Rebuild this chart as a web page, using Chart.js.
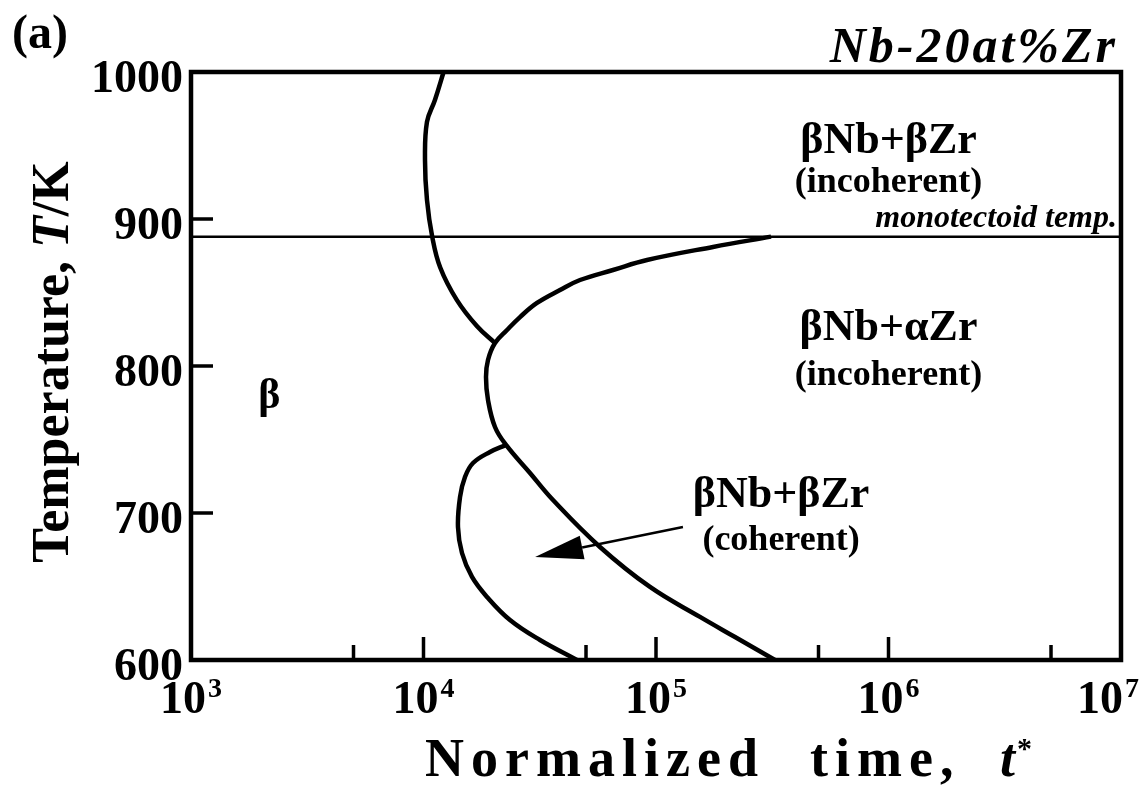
<!DOCTYPE html>
<html>
<head>
<meta charset="utf-8">
<title>Nb-20at%Zr TTT diagram</title>
<script src="https://cdn.jsdelivr.net/npm/chart.js@4.4.0/dist/chart.umd.min.js"></script>
<style>
  body { margin: 0; background: #fff; }
  #wrap { width: 1143px; height: 789px; }
</style>
</head>
<body>
<div id="wrap"><canvas id="ttt" width="1143" height="789"></canvas></div>
<script>
// Boundary between beta and incoherent betaNb+betaZr (above the nose)
const upperTime = [12200, 11200, 10350, 10150, 10350, 10900, 11800, 13900, 17000, 20300];
const upperTemp = [1000, 981, 966, 940, 913, 888, 867, 845, 827, 815.6];

// C-curve for betaNb+alphaZr (incoherent), from the monotectoid line down to 600 K
const alphaTime = [312400, 175900, 91500, 65340, 47120, 38650, 30770, 26010, 22870, 20300, 18940, 18570,
                   18940, 20300, 22650, 28710, 36060, 57420, 94230, 154600, 218700, 324900];
const alphaTemp = [888, 881, 872.1, 865.3, 858.5, 851.7, 842.9, 833.3, 824.5, 815.6, 804.1, 792.5,
                   776.9, 758.5, 746.3, 727.2, 708.8, 676.9, 649.7, 629.3, 615.6, 600];

// Coherent betaNb+betaZr nose, branching off the C-curve
const coherentTime = [22650, 19320, 16330, 15080, 14360, 14070, 14640, 16170, 18760, 23550, 31700, 45720];
const coherentTemp = [746.3, 741.5, 734, 724.5, 710.9, 690.5, 672.8, 656.5, 642.9, 627.2, 613.6, 600];

// Monotectoid temperature
const monotectoidTemp = 888;

// Axis ticks
const xMajorTicks = [1e3, 1e4, 1e5, 1e6, 1e7];
const xExponents = ['3', '4', '5', '6', '7'];
const xMinorTicks = [5e3, 5e4, 5e5, 5e6];
const yTicks = [600, 700, 800, 900, 1000];

const SERIF = '"Liberation Serif", "Times New Roman", Times, serif';

function toPoints(xs, ys) {
    return xs.map((x, i) => ({ x: x, y: ys[i] }));
}

function curve(xs, ys, width) {
    return {
        data: toPoints(xs, ys),
        showLine: true,
        borderColor: '#000',
        borderWidth: width,
        pointRadius: 0,
        tension: 0.4,
        fill: false
    };
}

// Region labels, placed in data coordinates
const regionLabels = [
    { text: 'βNb+βZr', t: 1.0e6, T: 944.9, size: 44 },
    { text: '(incoherent)', t: 1.0e6, T: 918.4, size: 36 },
    { text: 'βNb+αZr', t: 1.0e6, T: 817.7, size: 44 },
    { text: '(incoherent)', t: 1.0e6, T: 787, size: 36 },
    { text: 'β', t: 2170, T: 771.4, size: 42 },
    { text: 'βNb+βZr', t: 3.45e5, T: 704, size: 44 },
    { text: '(coherent)', t: 3.45e5, T: 674.8, size: 36 }
];

const arrowFrom = { t: 130600, T: 690.5 };
const arrowTo = { t: 30200, T: 670.1 };

const decorations = {
    id: 'decorations',
    afterDatasetsDraw(chart) {
        const ctx = chart.ctx;
        const area = chart.chartArea;
        const xs = chart.scales.x;
        const ys = chart.scales.y;
        ctx.save();
        ctx.fillStyle = '#000';
        ctx.strokeStyle = '#000';

        // frame
        ctx.lineWidth = 4.5;
        ctx.strokeRect(area.left, area.top, area.right - area.left, area.bottom - area.top);

        // inward ticks
        ctx.lineWidth = 3.5;
        ctx.beginPath();
        xMajorTicks.slice(1, -1).forEach(v => {
            const px = xs.getPixelForValue(v);
            ctx.moveTo(px, area.bottom);
            ctx.lineTo(px, area.bottom - 23);
        });
        xMinorTicks.forEach(v => {
            const px = xs.getPixelForValue(v);
            ctx.moveTo(px, area.bottom);
            ctx.lineTo(px, area.bottom - 15);
        });
        yTicks.slice(1, -1).forEach(v => {
            const py = ys.getPixelForValue(v);
            ctx.moveTo(area.left, py);
            ctx.lineTo(area.left + 22, py);
        });
        ctx.stroke();

        // y tick labels
        ctx.font = 'bold 46px ' + SERIF;
        ctx.textAlign = 'right';
        ctx.textBaseline = 'alphabetic';
        yTicks.forEach(v => {
            ctx.fillText(String(v), area.left - 8, ys.getPixelForValue(v) + 20);
        });

        // x tick labels as powers of ten, kept inside the canvas
        ctx.textAlign = 'left';
        xMajorTicks.forEach((v, i) => {
            const px = xs.getPixelForValue(v);
            ctx.font = 'bold 46px ' + SERIF;
            const wBase = ctx.measureText('10').width;
            ctx.font = 'bold 28px ' + SERIF;
            const wExp = ctx.measureText(xExponents[i]).width;
            const w = wBase + wExp + 2;
            const x0 = Math.min(px - w / 2, chart.width - 4 - w);
            ctx.font = 'bold 46px ' + SERIF;
            ctx.fillText('10', x0, 713);
            ctx.font = 'bold 28px ' + SERIF;
            ctx.fillText(xExponents[i], x0 + wBase + 2, 697);
        });

        // x axis title, spaced letters
        ctx.font = 'bold 54px ' + SERIF;
        ctx.letterSpacing = '7px';
        ctx.fillText('Normalized', 425, 776);
        ctx.fillText('time,', 810, 776);
        ctx.font = 'bold italic 54px ' + SERIF;
        ctx.letterSpacing = '0px';
        ctx.fillText('t', 1000, 776);
        const wt = ctx.measureText('t').width;
        ctx.font = 'bold 30px ' + SERIF;
        ctx.fillText('*', 1000 + wt + 2, 758);

        // y axis title, rotated
        ctx.save();
        ctx.translate(68, 362);
        ctx.rotate(-Math.PI / 2);
        const parts = [
            ['Temperature, ', 'bold 52px '],
            ['T', 'bold italic 52px '],
            ['/K', 'bold 52px ']
        ];
        let total = 0;
        parts.forEach(p => { ctx.font = p[1] + SERIF; total += ctx.measureText(p[0]).width; });
        let cx = -total / 2;
        parts.forEach(p => {
            ctx.font = p[1] + SERIF;
            ctx.fillText(p[0], cx, 0);
            cx += ctx.measureText(p[0]).width;
        });
        ctx.restore();

        // panel label and alloy name
        ctx.font = 'bold 48px ' + SERIF;
        ctx.textAlign = 'left';
        ctx.fillText('(a)', 12, 48);
        ctx.font = 'bold italic 50px ' + SERIF;
        ctx.letterSpacing = '3px';
        ctx.textAlign = 'right';
        ctx.fillText('Nb-20at%Zr', 1118, 62);
        ctx.letterSpacing = '0px';

        // monotectoid label
        ctx.font = 'bold italic 32px ' + SERIF;
        ctx.fillText('monotectoid temp.', area.right - 4, ys.getPixelForValue(monotectoidTemp) - 10);

        // region labels
        ctx.textAlign = 'center';
        regionLabels.forEach(l => {
            ctx.font = 'bold ' + l.size + 'px ' + SERIF;
            ctx.fillText(l.text, xs.getPixelForValue(l.t), ys.getPixelForValue(l.T));
        });

        // arrow pointing into the coherent region
        const ax = xs.getPixelForValue(arrowFrom.t), ay = ys.getPixelForValue(arrowFrom.T);
        const bx = xs.getPixelForValue(arrowTo.t), by = ys.getPixelForValue(arrowTo.T);
        const ang = Math.atan2(by - ay, bx - ax);
        const headLen = 48, headHalf = 12;
        const hx = bx - headLen * Math.cos(ang), hy = by - headLen * Math.sin(ang);
        ctx.lineWidth = 2.5;
        ctx.beginPath();
        ctx.moveTo(ax, ay);
        ctx.lineTo(hx, hy);
        ctx.stroke();
        ctx.beginPath();
        ctx.moveTo(bx, by);
        ctx.lineTo(hx + headHalf * Math.sin(ang), hy - headHalf * Math.cos(ang));
        ctx.lineTo(hx - headHalf * Math.sin(ang), hy + headHalf * Math.cos(ang));
        ctx.closePath();
        ctx.fill();

        ctx.restore();
    }
};

const chart = new Chart(document.getElementById('ttt').getContext('2d'), {
    type: 'scatter',
    data: {
        datasets: [
            curve(upperTime, upperTemp, 4.5),
            curve(alphaTime, alphaTemp, 4.5),
            curve(coherentTime, coherentTemp, 4.5),
            {
                data: [{ x: xMajorTicks[0], y: monotectoidTemp }, { x: xMajorTicks[xMajorTicks.length - 1], y: monotectoidTemp }],
                showLine: true,
                borderColor: '#000',
                borderWidth: 2.5,
                pointRadius: 0,
                tension: 0
            }
        ]
    },
    options: {
        responsive: false,
        animation: false,
        layout: { padding: { left: 191, right: 22, top: 72, bottom: 129 } },
        plugins: {
            legend: { display: false },
            tooltip: { enabled: false }
        },
        scales: {
            x: {
                type: 'logarithmic',
                min: xMajorTicks[0],
                max: xMajorTicks[xMajorTicks.length - 1],
                display: false
            },
            y: {
                type: 'linear',
                min: yTicks[0],
                max: yTicks[yTicks.length - 1],
                display: false
            }
        }
    },
    plugins: [decorations]
});
</script>
</body>
</html>
